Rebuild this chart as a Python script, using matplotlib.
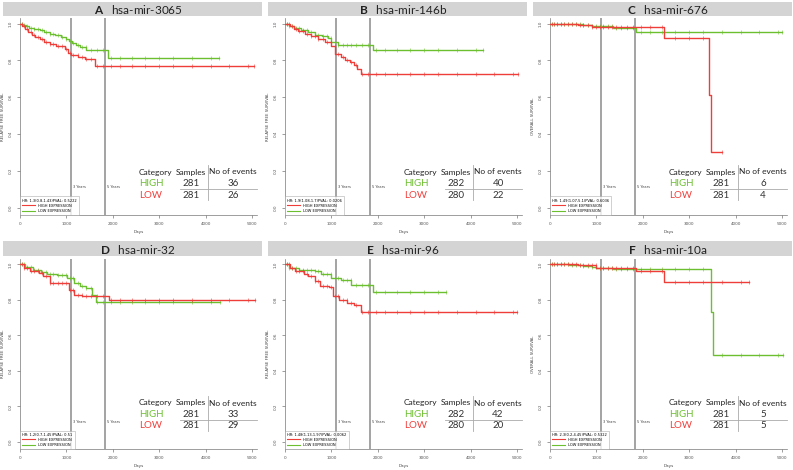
import matplotlib.pyplot as plt
import numpy as np
from matplotlib.patches import Rectangle
from matplotlib.lines import Line2D

plt.rcParams["font.family"] = ["Lato", "DejaVu Sans"]
plt.rcParams["mathtext.fontset"] = "custom"
plt.rcParams["mathtext.bf"] = "Lato:bold"
plt.rcParams["mathtext.rm"] = "Lato"

GREEN = "#6cbf2f"
RED = "#ef3e3a"

letters = ["A", "B", "C", "D", "E", "F"]
mirnas = ["hsa-mir-3065", "hsa-mir-146b", "hsa-mir-676", "hsa-mir-32", "hsa-mir-96", "hsa-mir-10a"]
ylabels = ["RELAPSE FREE SURVIVAL", "RELAPSE FREE SURVIVAL", "OVERALL SURVIVAL",
           "RELAPSE FREE SURVIVAL", "RELAPSE FREE SURVIVAL", "OVERALL SURVIVAL"]
hr_text = ["HR: 1.3(0.8-1.43)PVAL: 0.5222", "HR: 1.9(1.08-1.7)PVAL: 0.0206",
           "HR: 1.49(1.07-5.1)PVAL: 0.6036", "HR: 1.2(0.7-1.45)PVAL: 0.51",
           "HR: 1.48(1.13-1.97)PVAL: 0.0062", "HR: 2.3(0.2-4.45)PVAL: 0.5322"]
high_samples = [281, 282, 281, 281, 282, 281]
low_samples = [281, 280, 281, 281, 280, 281]
high_events = [36, 40, 6, 33, 42, 5]
low_events = [26, 22, 4, 29, 20, 5]

# Kaplan-Meier step points (days, survival)
a_high_t = [0, 60, 120, 200, 300, 420, 520, 640, 760, 880, 980, 1050, 1120, 1200, 1300, 1430, 1890]
a_high_s = [1.0, 0.99, 0.985, 0.975, 0.97, 0.965, 0.955, 0.945, 0.935, 0.925, 0.915, 0.905, 0.895, 0.885, 0.87, 0.855, 0.815]
a_low_t = [0, 50, 110, 180, 260, 330, 420, 520, 640, 780, 960, 1040, 1100, 1250, 1400, 1620]
a_low_s = [1.0, 0.985, 0.97, 0.955, 0.94, 0.925, 0.915, 0.9, 0.89, 0.88, 0.86, 0.84, 0.83, 0.82, 0.81, 0.77]

b_high_t = [0, 80, 200, 350, 500, 650, 800, 935, 1000, 1150, 1900]
b_high_s = [1.0, 0.985, 0.975, 0.965, 0.955, 0.94, 0.93, 0.92, 0.9, 0.886, 0.855]
b_low_t = [0, 100, 200, 290, 420, 560, 700, 860, 1000, 1080, 1200, 1300, 1400, 1475, 1560, 1640]
b_low_s = [1.0, 0.985, 0.97, 0.96, 0.945, 0.93, 0.915, 0.898, 0.88, 0.835, 0.82, 0.8, 0.79, 0.775, 0.755, 0.727]

c_high_t = [0, 700, 900, 1350, 1840]
c_high_s = [1.0, 0.99, 0.985, 0.975, 0.952]
c_low_t = [0, 600, 900, 2450, 3430, 3465]
c_low_s = [1.0, 0.99, 0.982, 0.92, 0.61, 0.30]

d_high_t = [0, 100, 290, 450, 580, 800, 1010, 1160, 1300, 1410, 1550, 1625]
d_high_s = [1.0, 0.985, 0.97, 0.955, 0.947, 0.94, 0.925, 0.896, 0.88, 0.868, 0.83, 0.79]
d_low_t = [0, 90, 220, 400, 500, 650, 1050, 1160, 1340, 1915]
d_low_s = [1.0, 0.98, 0.962, 0.95, 0.935, 0.896, 0.858, 0.83, 0.82, 0.8]

e_high_t = [0, 80, 300, 640, 780, 1000, 1215, 1430, 1890]
e_high_s = [1.0, 0.98, 0.97, 0.962, 0.944, 0.925, 0.91, 0.883, 0.844]
e_low_t = [0, 100, 215, 400, 500, 640, 750, 950, 1035, 1160, 1340, 1480, 1630]
e_low_s = [1.0, 0.98, 0.962, 0.945, 0.934, 0.906, 0.878, 0.87, 0.82, 0.8, 0.783, 0.773, 0.733]

f_high_t = [0, 400, 700, 900, 1000, 1350, 3460, 3500]
f_high_s = [1.0, 0.995, 0.99, 0.985, 0.98, 0.975, 0.733, 0.492]
f_low_t = [0, 600, 1000, 1840, 2450]
f_low_s = [1.0, 0.995, 0.978, 0.962, 0.9]

high_t = [a_high_t, b_high_t, c_high_t, d_high_t, e_high_t, f_high_t]
high_s = [a_high_s, b_high_s, c_high_s, d_high_s, e_high_s, f_high_s]
low_t = [a_low_t, b_low_t, c_low_t, d_low_t, e_low_t, f_low_t]
low_s = [a_low_s, b_low_s, c_low_s, d_low_s, e_low_s, f_low_s]
high_end = [4280, 4260, 5000, 4300, 3460, 5020]
low_end = [5030, 5020, 3700, 5050, 5000, 4290]

censor_days = [40, 90, 150, 230, 310, 380, 470, 560, 650, 720, 810, 900, 990, 1070,
               1150, 1240, 1330, 1420, 1520, 1650, 1780, 1950, 2150, 2400, 2700,
               3000, 3300, 3700, 4100, 4500, 4900]

W, H = 793, 470
fig = plt.figure(figsize=(W / 100, H / 100), dpi=100)


def fbox(x0, y0, x1, y1):
    return [x0 / W, 1 - y1 / H, (x1 - x0) / W, (y1 - y0) / H]


def fx(x):
    return x / W


def fy(y):
    return 1 - y / H


col_x = [0, 265, 530]
ax_top = [18, 259]
ax_bot = [215, 449]
bar_top = [2, 241]
bar_bot = [16, 256]
tab_y = [172, 403]


def draw_km(ax, t, s, end, color):
    tt = list(t) + [end]
    ss = list(s) + [s[-1]]
    ax.step(tt, ss, where="post", color=color, lw=1.0, zorder=3)
    ct = np.array([c for c in censor_days if c < end] + [end])
    idx = np.searchsorted(np.array(t), ct, side="right") - 1
    cs = np.array(s)[idx]
    ax.plot(ct, cs, ls="none", marker="|", ms=2.2, mew=0.4, color=color, zorder=3)


for i in range(6):
    r, c = divmod(i, 3)
    cx = col_x[c]

    # title bar
    fig.patches.append(Rectangle((fx(cx + 3), fy(bar_bot[r])),
                                 (259) / W, (bar_bot[r] - bar_top[r]) / H,
                                 transform=fig.transFigure, facecolor="#d4d4d4",
                                 edgecolor="none"))
    fig.text(fx(cx + 138), fy((bar_top[r] + bar_bot[r]) / 2 + 0.5),
             r"$\mathbf{" + letters[i] + "}$   " + mirnas[i],
             ha="center", va="center", fontsize=8.5, color="#222222")

    ax = fig.add_axes(fbox(cx + 20, ax_top[r], cx + 257, ax_bot[r]))
    draw_km(ax, high_t[i], high_s[i], high_end[i], GREEN)
    draw_km(ax, low_t[i], low_s[i], low_end[i], RED)

    for d, lab in [(1095, "3 Years"), (1825, "5 Years")]:
        ax.axvline(d, color="#8a8a8a", lw=1.1, zorder=2)
        ax.text(d + 40, 0.11, lab, fontsize=2.6, color="#444444",
                family="DejaVu Sans", va="center")

    ax.set_xlim(0, 5100)
    ax.set_ylim(-0.04, 1.03)
    ax.set_xticks([0, 1000, 2000, 3000, 4000, 5000])
    ax.set_yticks([0, 0.2, 0.4, 0.6, 0.8, 1.0])
    ax.set_yticklabels(["0.0", "0.2", "0.4", "0.6", "0.8", "1.0"], rotation=90, va="center")
    ax.tick_params(labelsize=3, length=2, width=0.4, pad=3, colors="#555555")
    for lab in ax.get_xticklabels() + ax.get_yticklabels():
        lab.set_family("DejaVu Sans")
    ax.spines["top"].set_visible(False)
    ax.spines["right"].set_visible(False)
    ax.spines["left"].set_linewidth(0.5)
    ax.spines["bottom"].set_linewidth(0.5)
    ax.spines["left"].set_color("#777777")
    ax.spines["bottom"].set_color("#777777")
    ax.set_xlabel("Days", fontsize=3, family="DejaVu Sans", labelpad=3, color="#444444")
    ax.set_ylabel(ylabels[i], fontsize=2.8, family="DejaVu Sans", labelpad=3, color="#444444")

    handles = [Line2D([], [], color=RED, lw=0.8), Line2D([], [], color=GREEN, lw=0.8)]
    leg = ax.legend(handles, ["HIGH EXPRESSION", "LOW EXPRESSION"], title=hr_text[i],
                    loc="lower left", bbox_to_anchor=(0.0, 0.0), prop={"family": "DejaVu Sans", "size": 2.6},
                    title_fontproperties={"family": "DejaVu Sans", "size": 2.6},
                    frameon=True, fancybox=False, borderpad=0.6, handlelength=3.5,
                    labelspacing=0.3, borderaxespad=0.0, alignment="left")
    leg.get_frame().set_linewidth(0.4)
    leg.get_frame().set_edgecolor("#999999")

    # category table
    ty = tab_y[r]
    fig.text(fx(cx + 139), fy(ty), "Category", fontsize=6, ha="left", va="center", color="#222222")
    fig.text(fx(cx + 191), fy(ty), "Samples", fontsize=6, ha="center", va="center", color="#222222")
    fig.text(fx(cx + 233), fy(ty), "No of events", fontsize=6, ha="center", va="center", color="#222222")
    fig.text(fx(cx + 139), fy(ty + 11.5), "HIGH", fontsize=7, ha="left", va="center", color=GREEN)
    fig.text(fx(cx + 139), fy(ty + 23), "LOW", fontsize=7, ha="left", va="center", color=RED)
    fig.text(fx(cx + 191), fy(ty + 11.5), str(high_samples[i]), fontsize=7, ha="center", va="center", color="#333333")
    fig.text(fx(cx + 191), fy(ty + 23), str(low_samples[i]), fontsize=7, ha="center", va="center", color="#333333")
    fig.text(fx(cx + 233), fy(ty + 11.5), str(high_events[i]), fontsize=7, ha="center", va="center", color="#333333")
    fig.text(fx(cx + 233), fy(ty + 23), str(low_events[i]), fontsize=7, ha="center", va="center", color="#333333")
    fig.add_artist(Line2D([fx(cx + 180), fx(cx + 257)], [fy(ty + 16.5), fy(ty + 16.5)],
                          color="#aaaaaa", lw=0.6))
    fig.add_artist(Line2D([fx(cx + 208), fx(cx + 208)], [fy(ty - 7), fy(ty + 28)],
                          color="#aaaaaa", lw=0.6))

fig.savefig("out.png", dpi=100, facecolor="white")
